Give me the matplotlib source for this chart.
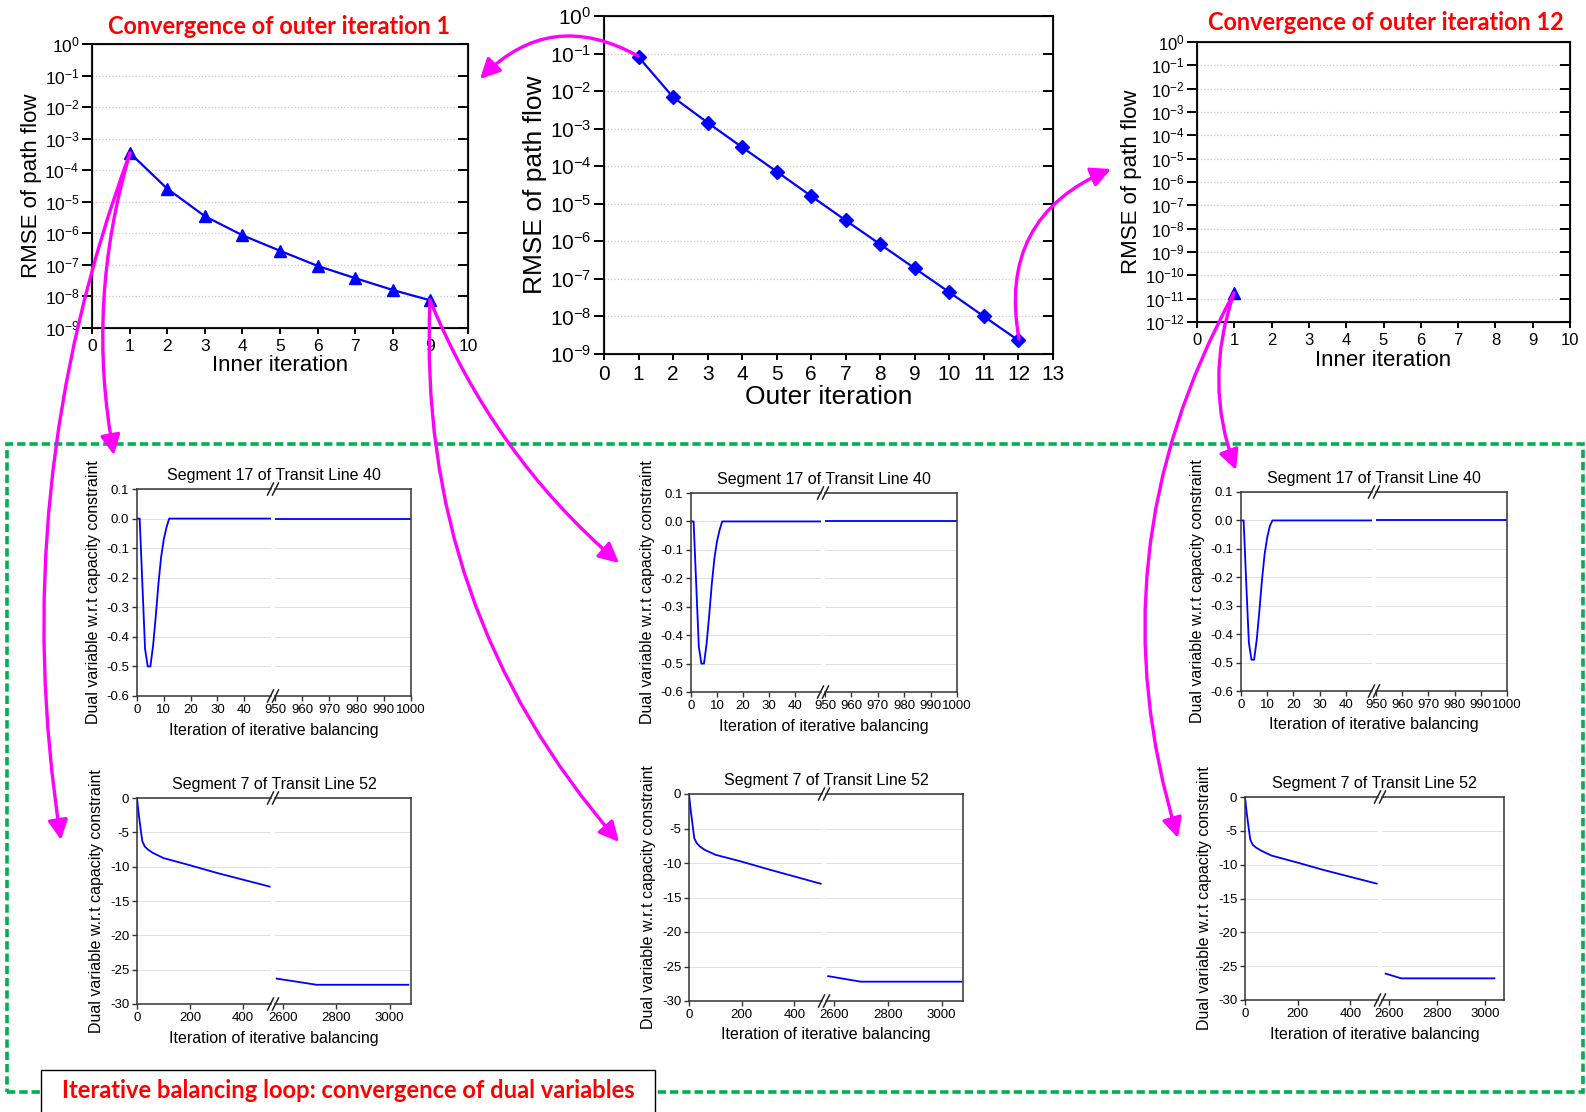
import matplotlib
matplotlib.use('Agg')
import matplotlib.pyplot as plt
from matplotlib.patches import FancyArrowPatch, Rectangle
from matplotlib.lines import Line2D
from matplotlib.ticker import NullLocator, FormatStrFormatter

plt.rcParams['font.family'] = 'Liberation Sans'
plt.rcParams['axes.unicode_minus'] = False

# ---- data ----
inner_iter_o1 = [1, 2, 3, 4, 5, 6, 7, 8, 9]
rmse_o1 = [3.6e-4, 2.6e-5, 3.5e-6, 8.7e-7, 2.8e-7, 9.3e-8, 3.8e-8, 1.6e-8, 7.5e-9]

outer_iter = [1, 2, 3, 4, 5, 6, 7, 8, 9, 10, 11, 12]
rmse_outer = [8.1e-2, 6.9e-3, 1.45e-3, 3.2e-4, 7.2e-5, 1.6e-5, 3.6e-6, 8.3e-7,
              1.9e-7, 4.4e-8, 1.0e-8, 2.3e-9]

inner_iter_o12 = [1]
rmse_o12 = [1.8e-11]

# segment 17 of transit line 40
seg17_iter = [0, 1, 2, 3, 4, 5, 6, 7, 8, 9, 10, 11, 12, 1000]
dual17_o1_i1 = [0, 0, -0.22, -0.44, -0.50, -0.50, -0.43, -0.33, -0.22, -0.13, -0.07, -0.03, 0, 0]
dual17_o1_i9 = [0, 0, -0.22, -0.44, -0.50, -0.50, -0.43, -0.33, -0.22, -0.13, -0.07, -0.03, 0, 0]
dual17_o12_i1 = [0, 0, -0.22, -0.43, -0.49, -0.49, -0.42, -0.32, -0.21, -0.12, -0.06, -0.02, 0, 0]

# segment 7 of transit line 52
seg7_iter_early = [0, 6, 14, 20, 29, 41, 60, 100, 200, 300, 400, 500]
dual7_o1_i1_early = [0, -2.2, -4.6, -6.3, -7.05, -7.5, -8.0, -8.75, -9.8, -10.9, -11.9, -12.9]
dual7_o1_i9_early = [0, -2.2, -4.6, -6.4, -7.1, -7.6, -8.1, -8.8, -9.8, -10.9, -11.95, -13.0]
dual7_o12_i1_early = [0, -2.2, -4.6, -6.3, -7.05, -7.45, -7.9, -8.65, -9.7, -10.8, -11.8, -12.8]

seg7_iter_late_o1_i1 = [2576, 2726, 3070]
dual7_o1_i1_late = [-26.3, -27.2, -27.2]
seg7_iter_late_o1_i9 = [2578, 2700, 3075]
dual7_o1_i9_late = [-26.4, -27.2, -27.2]
seg7_iter_late_o12_i1 = [2585, 2650, 3040]
dual7_o12_i1_late = [-26.1, -26.8, -26.8]

W, H = 1586, 1112
BLUE = '#0000ff'
fig = plt.figure(figsize=(W / 100, H / 100), dpi=100)


def px_rect(x0, y0, x1, y1):
    return [x0 / W, 1 - y1 / H, (x1 - x0) / W, (y1 - y0) / H]


def fpt(x, y):
    return (x / W, 1 - y / H)


def rmse_panel(box, x, y, marker, ms, xmax, ndec, tick_fs, lab_fs, xlabel):
    ax = fig.add_axes(px_rect(*box))
    ax.set_yscale('log')
    ax.set_xlim(0, xmax)
    ax.set_ylim(10.0 ** -ndec, 1)
    ax.set_xticks(range(xmax + 1))
    ax.set_yticks([10.0 ** -k for k in range(ndec + 1)])
    ax.yaxis.set_minor_locator(NullLocator())
    ax.yaxis.grid(True, color='#c8c8c8', ls=':', lw=0.9)
    ax.plot(x, y, color=BLUE, lw=1.6, marker=marker, ms=ms, zorder=3)
    ax.tick_params(axis='y', direction='out', length=7, width=1.4, labelsize=tick_fs, pad=2)
    ax.tick_params(axis='x', direction='out', length=4.5, width=1.4, labelsize=tick_fs)
    for s in ax.spines.values():
        s.set_linewidth(1.5)
        s.set_color('#1a1a1a')
    ax.set_xlabel(xlabel, fontsize=lab_fs, labelpad=1)
    ax.set_ylabel('RMSE of path flow', fontsize=lab_fs, labelpad=2)
    tw = ax.twinx()
    tw.set_yscale('log')
    tw.set_ylim(ax.get_ylim())
    tw.set_yticks(ax.get_yticks())
    tw.yaxis.set_minor_locator(NullLocator())
    tw.tick_params(axis='y', direction='in', length=7, width=1.4, labelright=False)
    return ax


rmse_panel((92, 44, 468, 328), inner_iter_o1, rmse_o1, '^', 8, 10, 9, 12.5, 16, 'Inner iteration')
rmse_panel((604, 16, 1053, 354), outer_iter, rmse_outer, 'D', 7.5, 13, 9, 15, 19, 'Outer iteration')
rmse_panel((1197, 42, 1570, 322), inner_iter_o12, rmse_o12, '^', 8, 10, 12, 12, 16, 'Inner iteration')


def break_marks(xb, y):
    for off in (-2.5, 2.5):
        fig.add_artist(Line2D([(xb + off - 3) / W, (xb + off + 3) / W],
                              [1 - (y + 6) / H, 1 - (y - 6) / H],
                              color='#222222', lw=1.1, zorder=6))


def dual_panel(x0, xb, x1, top, bot, series, xl, xr, xt_l, xt_r, ylim, yticks, yfmt, title):
    axL = fig.add_axes(px_rect(x0, top, xb - 2, bot))
    axR = fig.add_axes(px_rect(xb + 2, top, x1, bot))
    for ax in (axL, axR):
        for xs, ys in series:
            ax.plot(xs, ys, color=BLUE, lw=1.3)
        ax.set_ylim(*ylim)
        ax.set_yticks(yticks)
        ax.yaxis.grid(True, color='#e0e0e0', lw=0.7)
        ax.tick_params(axis='both', direction='out', length=3.5, width=1.0,
                       labelsize=9.5, color='#333333', pad=2)
        for s in ax.spines.values():
            s.set_linewidth(1.1)
            s.set_color('#333333')
    axL.set_xlim(*xl)
    axR.set_xlim(*xr)
    axL.set_xticks(xt_l)
    axR.set_xticks(xt_r)
    axL.spines['right'].set_visible(False)
    axR.spines['left'].set_visible(False)
    axR.tick_params(axis='y', length=0, labelleft=False)
    axL.yaxis.set_major_formatter(FormatStrFormatter(yfmt))
    axL.set_ylabel('Dual variable w.r.t capacity constraint', fontsize=11.5, labelpad=4)
    break_marks(xb, top)
    break_marks(xb, bot)
    cx = (x0 + x1) / 2
    fig.text(cx / W, 1 - (top - 9) / H, title, ha='center', va='baseline', fontsize=11.5)
    fig.text(cx / W, 1 - (bot + 34) / H, 'Iteration of iterative balancing',
             ha='center', va='center', fontsize=11.5)


s17_args = dict(xl=(0, 50), xr=(950, 1000), xt_l=[0, 10, 20, 30, 40],
                xt_r=[950, 960, 970, 980, 990, 1000], ylim=(-0.6, 0.1),
                yticks=[0.1, 0.0, -0.1, -0.2, -0.3, -0.4, -0.5, -0.6], yfmt='%.1f',
                title='Segment 17 of Transit Line 40')
s7_args = dict(xl=(0, 505), xr=(2570, 3080), xt_l=[0, 200, 400], xt_r=[2600, 2800, 3000],
               ylim=(-30, 0), yticks=[0, -5, -10, -15, -20, -25, -30], yfmt='%d',
               title='Segment 7 of Transit Line 52')

dual_panel(137, 273, 411, 489, 696, [(seg17_iter, dual17_o1_i1)], **s17_args)
dual_panel(137, 273, 411, 798, 1004, [(seg7_iter_early, dual7_o1_i1_early),
                                      (seg7_iter_late_o1_i1, dual7_o1_i1_late)], **s7_args)
dual_panel(691, 823, 957, 493, 692, [(seg17_iter, dual17_o1_i9)], **s17_args)
dual_panel(689, 824, 963, 794, 1001, [(seg7_iter_early, dual7_o1_i9_early),
                                      (seg7_iter_late_o1_i9, dual7_o1_i9_late)], **s7_args)
dual_panel(1241, 1374, 1507, 492, 691, [(seg17_iter, dual17_o12_i1)], **s17_args)
dual_panel(1245, 1380, 1504, 797, 1000, [(seg7_iter_early, dual7_o12_i1_early),
                                         (seg7_iter_late_o12_i1, dual7_o12_i1_late)], **s7_args)

# green dashed frame and caption box
fig.add_artist(Rectangle(fpt(7, 1092), (1583 - 7) / W, (1092 - 444) / H,
                         transform=fig.transFigure, fill=False, ec='#00b050',
                         lw=2.6, ls=(0, (2.3, 1.1)), zorder=5))
fig.add_artist(Rectangle(fpt(41, 1120), (655 - 41) / W, (1120 - 1070) / H,
                         transform=fig.transFigure, fc='white', ec='black',
                         lw=1.0, zorder=6))

renderer = fig.canvas.get_renderer()


def red_text(cx, cy, s, width):
    t = fig.text(cx / W, 1 - cy / H, s, ha='center', va='center', color='#ff0000',
                 fontsize=16, fontweight='bold', family='Lato', zorder=8)
    w = t.get_window_extent(renderer=renderer).width
    t.set_fontsize(16 * width / w)
    return t


red_text(279, 27, 'Convergence of outer iteration 1', 345)
red_text(1386, 23, 'Convergence of outer iteration 12', 358)
red_text(348, 1091, 'Iterative balancing loop: convergence of dual variables', 576)

# magenta arrows (start, end, curvature) in pixel coords
arrows = [((638, 56), (480, 79), 0.38),
          ((1019, 339), (1111, 169), -0.4),
          ((130, 153), (61, 840), 0.13),
          ((130, 153), (114, 455), 0.12),
          ((430, 300), (619, 563), 0.12),
          ((430, 300), (619, 842), 0.2),
          ((1234, 293), (1178, 838), 0.21),
          ((1234, 293), (1236, 470), 0.18)]
for a, b, rad in arrows:
    fig.add_artist(FancyArrowPatch(fpt(*a), fpt(*b), transform=fig.transFigure,
                                   connectionstyle='arc3,rad=%s' % rad,
                                   arrowstyle='-|>,head_length=0.8,head_width=0.4',
                                   mutation_scale=15, color='#ff00ff', lw=2.4,
                                   shrinkA=0, shrinkB=0, zorder=10))

fig.savefig('out.png', dpi=100)
